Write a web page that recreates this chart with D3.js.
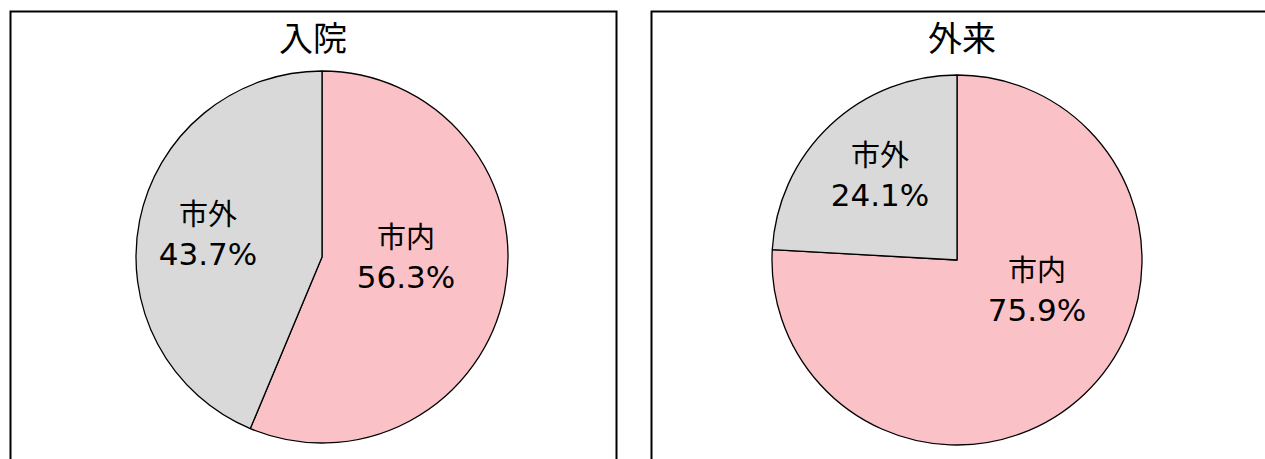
<!DOCTYPE html>
<html>
<head>
<meta charset="utf-8">
<script src="https://cdn.jsdelivr.net/npm/d3@7"></script>
<style>
  body { margin: 0; background: #fff; }
  svg { display: block; }
  text { font-family: "Noto Sans CJK JP", "Noto Sans", sans-serif; fill: #000; }
</style>
</head>
<body>
<div id="chart"></div>
<script>
// data
var titles = ["入院", "外来"];
var categories = ["市内", "市外"];
var inpatient = [56.3, 43.7];
var outpatient = [75.9, 24.1];
var colors = ["#fac1c7", "#d9d9d9"];

// layout of each panel (box, pie centre, radius, label offsets from centre)
var panels = [
    { title: titles[0], values: inpatient, x: 10, w: 606, cx: 322, cy: 257, r: 186,
      labels: [[84, 0], [-114, -23]] },
    { title: titles[1], values: outpatient, x: 651, w: 622, cx: 957, cy: 260, r: 185,
      labels: [[80, 30], [-77, -85]] }
];

var svg = d3.select("#chart").append("svg")
    .attr("width", 1265)
    .attr("height", 459);

var pie = d3.pie().sort(null).value(function (d) { return d.value; });

panels.forEach(function (p) {
    var g = svg.append("g");

    g.append("rect")
        .attr("x", p.x + 0.5)
        .attr("y", 11.5)
        .attr("width", p.w)
        .attr("height", 480)
        .attr("fill", "#fff")
        .attr("stroke", "#000")
        .attr("stroke-width", 2);

    g.append("text")
        .attr("x", p.x + p.w / 2)
        .attr("y", 51)
        .attr("text-anchor", "middle")
        .style("font-size", "34px")
        .text(p.title);

    var data = categories.map(function (c, i) { return { name: c, value: p.values[i] }; });
    var arc = d3.arc().innerRadius(0).outerRadius(p.r);

    var pg = g.append("g").attr("transform", "translate(" + p.cx + "," + p.cy + ")");

    pg.selectAll("path")
        .data(pie(data))
        .enter().append("path")
        .attr("d", arc)
        .attr("fill", function (d, i) { return colors[i]; })
        .attr("stroke", "#000")
        .attr("stroke-width", 1.3)
        .attr("stroke-linejoin", "round");

    var lab = pg.selectAll("text.lab")
        .data(pie(data))
        .enter().append("text")
        .attr("class", "lab")
        .attr("text-anchor", "middle");

    lab.append("tspan")
        .attr("x", function (d, i) { return p.labels[i][0]; })
        .attr("y", function (d, i) { return p.labels[i][1] - 9; })
        .style("font-size", "29px")
        .text(function (d) { return d.data.name; });

    lab.append("tspan")
        .attr("x", function (d, i) { return p.labels[i][0]; })
        .attr("y", function (d, i) { return p.labels[i][1] + 31; })
        .style("font-family", "'DejaVu Sans', sans-serif")
        .style("font-size", "31px")
        .text(function (d) { return d.data.value.toFixed(1) + "%"; });
});
</script>
</body>
</html>
